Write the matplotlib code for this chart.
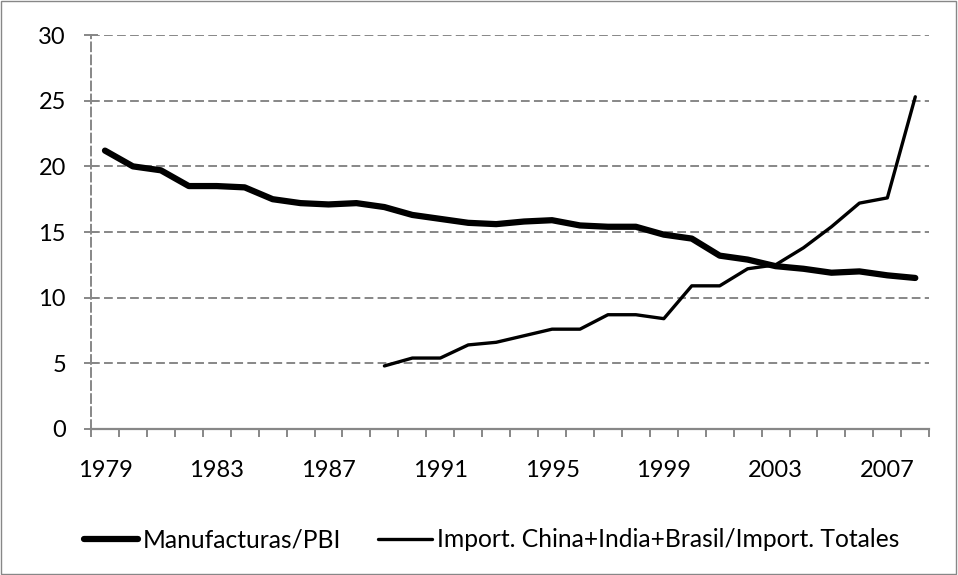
import numpy as np
import matplotlib
matplotlib.use("Agg")
import matplotlib.pyplot as plt
from matplotlib.patches import Rectangle

plt.rcParams['font.family'] = ['Lato', 'DejaVu Sans']

years = list(range(1979, 2009))
manuf = [21.2, 20.0, 19.7, 18.5, 18.5, 18.4, 17.5, 17.2, 17.1, 17.2,
         16.9, 16.3, 16.0, 15.7, 15.6, 15.8, 15.9, 15.5, 15.4, 15.4,
         14.8, 14.5, 13.2, 12.9, 12.4, 12.2, 11.9, 12.0, 11.7, 11.5]
imp_years = list(range(1989, 2009))
imports = [4.8, 5.4, 5.4, 6.4, 6.6, 7.1, 7.6, 7.6, 8.7, 8.7,
           8.4, 10.9, 10.9, 12.2, 12.5, 13.8, 15.4, 17.2, 17.6, 25.3]
tick_years = [1979, 1983, 1987, 1991, 1995, 1999, 2003, 2007]

grey = '#878787'
fs = 17

fig = plt.figure(figsize=(9.58, 5.75), dpi=100)
ax = fig.add_axes([0.095, 0.254, 0.875, 0.685])

# category axis: year i is centred at i + 0.5
x_m = [y - 1979 + 0.5 for y in years]
x_i = [y - 1979 + 0.5 for y in imp_years]
l1, = ax.plot(x_m, manuf, color='black', lw=4.5, solid_capstyle='round',
              solid_joinstyle='round', label='Manufacturas/PBI')
l2, = ax.plot(x_i, imports, color='black', lw=2.4, solid_capstyle='round',
              solid_joinstyle='round', label='Import. China+India+Brasil/Import. Totales')

ax.set_xlim(0, len(years))
ax.set_ylim(0, 30)
ax.set_yticks(range(0, 31, 5))
ax.yaxis.grid(True, color=grey, linestyle=(0, (4.5, 2.2)), lw=1.4)
ax.set_axisbelow(True)

ax.set_xticks(range(0, len(years) + 1))
ax.set_xticklabels([])
ax.set_xticks([t - 1979 + 0.5 for t in tick_years], minor=True)
ax.set_xticklabels([str(t) for t in tick_years], minor=True)
ax.tick_params(axis='x', which='major', length=6, color=grey, width=1.4)
ax.tick_params(axis='x', which='minor', length=0, pad=22, labelsize=fs)
ax.tick_params(axis='y', direction='inout', length=10, color=grey, width=1.4,
               labelsize=fs, pad=13)

for s in ['top', 'right']:
    ax.spines[s].set_visible(False)
ax.spines['bottom'].set_color(grey)
ax.spines['bottom'].set_linewidth(1.6)
ax.spines['left'].set_color(grey)
ax.spines['left'].set_linestyle((0, (4.5, 2.2)))
ax.spines['left'].set_linewidth(1.4)

fig.legend(handles=[l1, l2], loc='center', bbox_to_anchor=(0.513, 0.061),
           ncol=2, frameon=False, fontsize=17.7, handlelength=2.2,
           handletextpad=0.2, columnspacing=1.5)

fig.patches.append(Rectangle((0.001, 0.002), 0.997, 0.996, transform=fig.transFigure,
                             fill=False, edgecolor=grey, lw=1))

fig.savefig('out.png', dpi=100)
